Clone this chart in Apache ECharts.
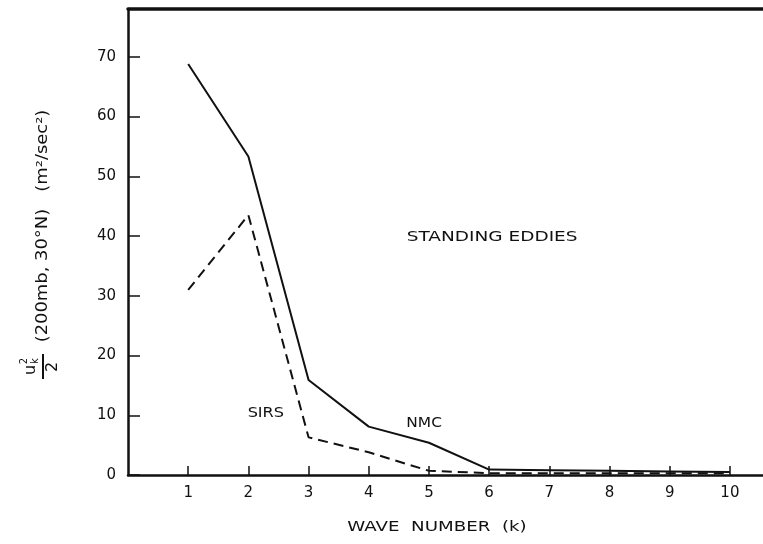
<!DOCTYPE html>
<html>
<head>
<meta charset="utf-8">
<script src="https://cdn.jsdelivr.net/npm/echarts@6/dist/echarts.min.js"></script>
<style>
  html, body { margin: 0; padding: 0; background: #fff; }
  #chart { width: 763px; height: 544px; }
</style>
</head>
<body>
<div id="chart"></div>
<script>
// Wave numbers k and the standing-eddy kinetic energy per wave (m^2/sec^2)
const waveNumbers = [1, 2, 3, 4, 5, 6, 7, 8, 9, 10];
const nmcEnergy  = [68.8, 53.3, 15.9, 8.1, 5.4, 0.9, 0.8, 0.7, 0.6, 0.5];
const sirsEnergy = [31.0, 43.5, 6.3, 3.8, 0.7, 0.3, 0.3, 0.3, 0.3, 0.3];
const yTicks = [0, 10, 20, 30, 40, 50, 60, 70];
const xTicks = [1, 2, 3, 4, 5, 6, 7, 8, 9, 10];

const FONT = 'DejaVu Sans';
const INK = '#111';

const chart = echarts.init(document.getElementById('chart'), null, { renderer: 'canvas' });

const axisText = { color: INK, fontFamily: FONT, fontSize: 15 };

chart.setOption({
  animation: false,
  backgroundColor: '#fff',
  grid: { left: 128, right: 0, top: 9, bottom: 69, containLabel: false },
  xAxis: [{
    type: 'value', min: 0, max: 10.55, interval: 1,
    axisLine: { show: true, onZero: false, lineStyle: { color: INK, width: 2.5 } },
    axisTick: { show: true, inside: true, length: 9, customValues: xTicks, lineStyle: { color: INK, width: 1.5 } },
    axisLabel: Object.assign({ margin: 11, customValues: xTicks }, axisText),
    splitLine: { show: false }
  }, {
    // top frame line
    type: 'value', position: 'top', min: 0, max: 10.55,
    axisLine: { show: true, onZero: false, lineStyle: { color: INK, width: 3.5 } },
    axisTick: { show: false }, axisLabel: { show: false }, splitLine: { show: false }
  }],
  yAxis: {
    type: 'value', min: 0, max: 78, interval: 10,
    axisLine: { show: true, onZero: false, lineStyle: { color: INK, width: 2.5 } },
    axisTick: { show: true, inside: true, length: 12, customValues: yTicks, lineStyle: { color: INK, width: 1.5 } },
    axisLabel: Object.assign({ margin: 12, customValues: yTicks }, axisText),
    splitLine: { show: false }
  },
  series: [{
    name: 'NMC', type: 'line', xAxisIndex: 0,
    data: waveNumbers.map((k, i) => [k, nmcEnergy[i]]),
    symbol: 'none',
    lineStyle: { color: INK, width: 2, type: 'solid' }
  }, {
    name: 'SIRS', type: 'line', xAxisIndex: 0,
    data: waveNumbers.map((k, i) => [k, sirsEnergy[i]]),
    symbol: 'none',
    lineStyle: { color: INK, width: 2, type: [10, 6] }
  }]
});

// Curve annotations placed in data coordinates
const notes = [
  { text: 'STANDING EDDIES', at: [6.05, 39.8], size: 14, sx: 1.32 },
  { text: 'SIRS', at: [2.29, 10.4], size: 14, sx: 1.15 },
  { text: 'NMC', at: [4.92, 8.7], size: 14, sx: 1.1 }
];

const graphics = notes.map(n => {
  const p = chart.convertToPixel({ xAxisIndex: 0, yAxisIndex: 0 }, n.at);
  return {
    type: 'text', x: p[0], y: p[1], scaleX: n.sx,
    style: { text: n.text, fill: INK, font: n.size + 'px "' + FONT + '"', align: 'center', verticalAlign: 'middle' }
  };
});

// x-axis title
graphics.push({
  type: 'text', x: 437, y: 527, scaleX: 1.3,
  style: { text: 'WAVE  NUMBER  (k)', fill: INK, font: '14px "' + FONT + '"', align: 'center', verticalAlign: 'middle' }
});

// Rotated y-axis title: u_k^2 / 2  (200mb, 30°N)  (m²/sec²)
graphics.push({
  type: 'text', x: 43, y: 226, rotation: Math.PI / 2, scaleX: 1.12,
  style: { text: '(200mb, 30°N)   (m²/sec²)', fill: INK, font: '16px "' + FONT + '"', align: 'center', verticalAlign: 'middle' }
});
graphics.push({
  type: 'group', x: 43, y: 367, rotation: Math.PI / 2,
  children: [
    { type: 'line', shape: { x1: -12, y1: 0, x2: 13, y2: 0 }, style: { stroke: INK, lineWidth: 2 } },
    { type: 'text', x: -3, y: -12, style: { text: 'u', fill: INK, font: '16px "' + FONT + '"', align: 'center', verticalAlign: 'middle' } },
    { type: 'text', x: 6, y: -19, style: { text: '2', fill: INK, font: '10px "' + FONT + '"', align: 'center', verticalAlign: 'middle' } },
    { type: 'text', x: 6, y: -8, style: { text: 'k', fill: INK, font: '10px "' + FONT + '"', align: 'center', verticalAlign: 'middle' } },
    { type: 'text', x: 0, y: 10, style: { text: '2', fill: INK, font: '16px "' + FONT + '"', align: 'center', verticalAlign: 'middle' } }
  ]
});

chart.setOption({ graphic: graphics });
</script>
</body>
</html>
